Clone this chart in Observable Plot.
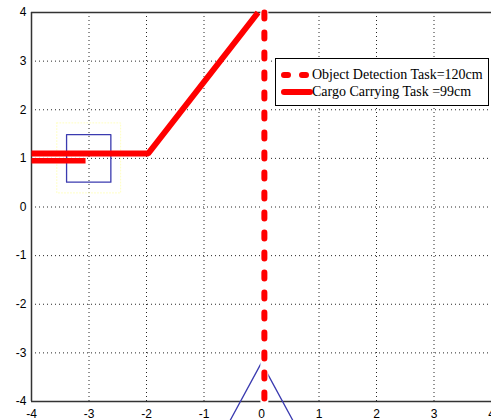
<!DOCTYPE html>
<html><head><meta charset="utf-8">
<script src="https://cdn.jsdelivr.net/npm/d3@7"></script>
<script src="https://cdn.jsdelivr.net/npm/@observablehq/plot@0.6"></script>
<style>
body{margin:0;background:#fff;}
#wrap{position:relative;width:491px;height:420px;overflow:hidden;}
#legend{position:absolute;left:275px;top:58px;width:214px;height:48px;border:1px solid #000;background:#fff;box-sizing:border-box;font-family:"Liberation Serif","Times New Roman",serif;font-size:14px;color:#000;}
#legend .row{position:absolute;left:0;height:16px;line-height:16px;white-space:nowrap;}
#legend svg{position:absolute;left:3px;top:0;}
#legend span{position:absolute;left:36px;top:0;}
</style></head>
<body><div id="wrap"></div>
<script>
const xTicks = [-4,-3,-2,-1,0,1,2,3,4];
const yTicks = [-4,-3,-2,-1,0,1,2,3,4];
// Cargo Carrying path
const cargoX = [-4, -1.97, -0.06];
const cargoY = [1.1, 1.1, 4];
// short red segment
const shortX = [-4, -3.06];
const shortY = [0.95, 0.95];
// Object detection vertical dashed line
const detectX = [0.05, 0.05];
const detectY = [4, -4];
// blue square
const sqX = [-3.39, -2.62, -2.62, -3.39, -3.39];
const sqY = [1.49, 1.49, 0.51, 0.51, 1.49];
// faint yellow dotted square
const ySqX = [-3.56, -2.45, -2.45, -3.56, -3.56];
const ySqY = [1.73, 1.73, 0.29, 0.29, 1.73];
// blue triangle
const triX = [-0.55, 0, 0.55];
const triY = [-4.4, -3.2, -4.4];
const legendLabels = ["Object Detection Task=120cm", "Cargo Carrying Task =99cm"];

const pts = (xs, ys) => xs.map((x, i) => ({x, y: ys[i]}));

const chart = Plot.plot({
  width: 491, height: 420,
  marginLeft: 31, marginRight: 0, marginTop: 12, marginBottom: 19,
  style: {fontFamily: '"Liberation Sans", Arial, sans-serif', fontSize: "12px", background: "#fff", color: "#000"},
  x: {domain: [-4, 4], label: null},
  y: {domain: [-4, 4], label: null},
  marks: [
    Plot.gridX(xTicks, {stroke: "#000", strokeOpacity: 0.85, strokeDasharray: "1,3"}),
    Plot.gridY(yTicks, {stroke: "#000", strokeOpacity: 0.85, strokeDasharray: "1,3"}),
    Plot.axisX(xTicks, {tickSize: 0, tickPadding: 8, tickFormat: d => String(d), fontSize: 12, label: null}),
    Plot.axisY(yTicks, {tickSize: 0, tickPadding: 5, tickFormat: d => String(d), fontSize: 12, label: null}),
    Plot.ruleX([xTicks[0]], {stroke: "#333", strokeWidth: 1.5}),
    Plot.ruleY([yTicks[0], yTicks[yTicks.length - 1]], {stroke: "#333", strokeWidth: 1.5}),
    Plot.line(pts(ySqX, ySqY), {x: "x", y: "y", stroke: "#ffffc0", strokeWidth: 1, strokeDasharray: "1,2"}),
    Plot.line(pts(sqX, sqY), {x: "x", y: "y", stroke: "#3b3bb0", strokeWidth: 1.3}),
    Plot.line(pts(triX, triY), {x: "x", y: "y", stroke: "#3b3bb0", strokeWidth: 1.3}),
    Plot.line(pts(shortX, shortY), {x: "x", y: "y", stroke: "#ff0000", strokeWidth: 5.5, strokeLinecap: "butt"}),
    Plot.line(pts(cargoX, cargoY), {x: "x", y: "y", stroke: "#ff0000", strokeWidth: 6, strokeLinecap: "butt", strokeLinejoin: "miter"}),
    Plot.line(pts(detectX, detectY), {x: "x", y: "y", stroke: "#fff", strokeWidth: 8}),
    Plot.line(pts(detectX, detectY), {x: "x", y: "y", stroke: "#ff0000", strokeWidth: 6, strokeLinecap: "round", strokeDasharray: "6,14"})
  ]
});
const wrap = document.getElementById("wrap");
wrap.appendChild(chart);

const legend = document.createElement("div");
legend.id = "legend";
const samples = [
  '<line x1="5" y1="8" x2="31" y2="8" stroke="#ff0000" stroke-width="6" stroke-linecap="round" stroke-dasharray="4,14"/>',
  '<line x1="5" y1="8" x2="31" y2="8" stroke="#ff0000" stroke-width="6" stroke-linecap="round"/>'
];
legendLabels.forEach((lab, i) => {
  const row = document.createElement("div");
  row.className = "row";
  row.style.top = (8 + i * 17) + "px";
  row.innerHTML = `<svg width="36" height="16">${samples[i]}</svg><span>${lab}</span>`;
  legend.appendChild(row);
});
wrap.appendChild(legend);
</script></body></html>
